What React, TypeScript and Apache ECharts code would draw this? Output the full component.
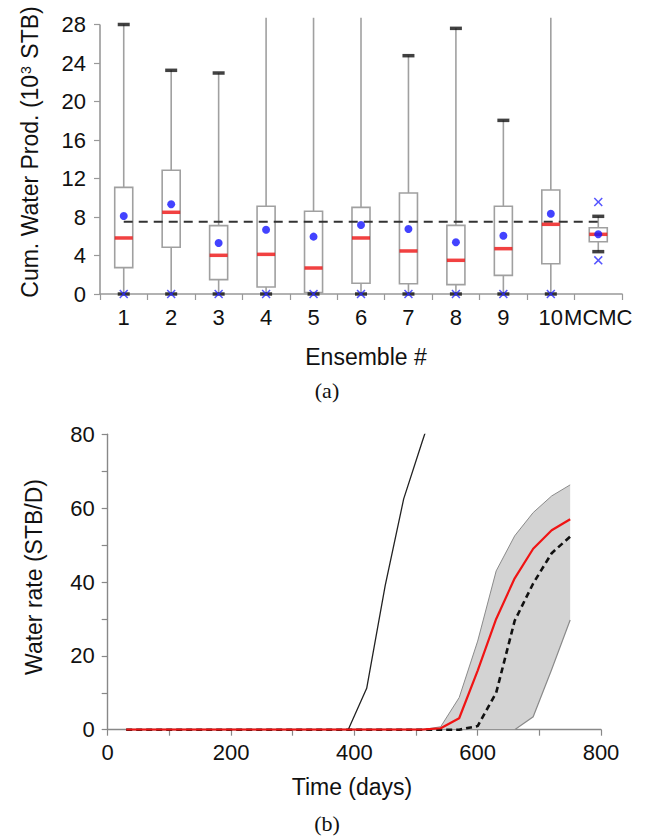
import React, { useEffect, useRef } from 'react';
import * as echarts from 'echarts';

const FONT = '"Liberation Sans", Arial, Helvetica, sans-serif';
const SERIF = '"Liberation Serif", "Times New Roman", serif';

// ---------- (a) box plot data ----------
const categories = ['1', '2', '3', '4', '5', '6', '7', '8', '9', '10', 'MCMC'];
const q1 = [2.74, 4.85, 1.49, 0.73, 0.14, 1.11, 1.07, 0.97, 1.94, 3.15, 5.43];
const q3 = [11.08, 12.85, 7.1, 9.11, 8.59, 9.0, 10.49, 7.13, 9.11, 10.8, 6.89];
const medians = [5.82, 8.49, 4.02, 4.12, 2.7, 5.82, 4.47, 3.5, 4.71, 7.24, 6.2];
const means = [8.1, 9.32, 5.3, 6.68, 5.96, 7.17, 6.75, 5.37, 6.06, 8.34, 6.2];
// null = whisker runs beyond the top of the axis
const whiskerHigh: (number | null)[] = [28.0, 23.24, 22.96, null, null, null, 24.76, 27.6, 18.04, null, 8.07];
const whiskerLow = [0, 0, 0, 0, 0, 0, 0, 0, 0, 0, 4.4];
const outlierCats = ['1', '2', '3', '4', '5', '6', '7', '8', '9', '10', 'MCMC', 'MCMC'];
const outlierValues = [0, 0, 0, 0, 0, 0, 0, 0, 0, 0, 9.56, 3.5];
const truthValue = 7.5;
const yTicksTop = [0, 4, 8, 12, 16, 20, 24, 28];
const yMaxTop = 28.7;

// ---------- (b) water rate data ----------
const times = [30, 60, 90, 120, 150, 180, 210, 240, 270, 300, 330, 360, 390, 420, 450, 480, 510, 540, 570, 600, 630, 660, 690, 720, 750];
const meanRate = [0, 0, 0, 0, 0, 0, 0, 0, 0, 0, 0, 0, 0, 0, 0, 0, 0, 0.4, 3.1, 16, 30, 41, 49, 54, 57];
const refRate = [0, 0, 0, 0, 0, 0, 0, 0, 0, 0, 0, 0, 0, 0, 0, 0, 0, 0, 0, 1, 10, 29.5, 39.6, 47.8, 52.3];
const bandUpper = [0, 0, 0, 0, 0, 0, 0, 0, 0, 0, 0, 0, 0, 0, 0, 0, 0, 0.8, 8.7, 24, 43, 52.5, 58.8, 63.3, 66.3];
const bandLower = [0, 0, 0, 0, 0, 0, 0, 0, 0, 0, 0, 0, 0, 0, 0, 0, 0, 0, 0, 0, 0, 0, 3.5, 16.3, 29.7];
const initialTimes = [30, 60, 90, 120, 150, 180, 210, 240, 270, 300, 330, 360, 390, 420, 450, 480, 510, 540];
const initialRate = [0, 0, 0, 0, 0, 0, 0, 0, 0, 0, 0, 0, 0, 11.2, 39, 62.5, 78, 93];

const xSymbol = 'path://M0,1.2L1.2,0L5,3.8L8.8,0L10,1.2L6.2,5L10,8.8L8.8,10L5,6.2L1.2,10L0,8.8L3.8,5Z';

export default function App() {
  const ref = useRef<HTMLDivElement>(null);

  useEffect(() => {
    const chart = echarts.init(ref.current!, null, { renderer: 'svg' });

    const boxData = categories.map((c, i) => [
      i,
      q1[i],
      q3[i],
      whiskerLow[i],
      whiskerHigh[i] === null ? yMaxTop : (whiskerHigh[i] as number),
    ]);

    const capData: [string, number][] = [];
    categories.forEach((c, i) => {
      capData.push([c, whiskerLow[i]]);
      if (whiskerHigh[i] !== null) capData.push([c, whiskerHigh[i] as number]);
    });

    const boxRender = (params: any, api: any) => {
      const i = api.value(0);
      const x = api.coord([i, 0])[0];
      const yQ1 = api.coord([i, api.value(1)])[1];
      const yQ3 = api.coord([i, api.value(2)])[1];
      const yLo = api.coord([i, api.value(3)])[1];
      const yHi = api.coord([i, api.value(4)])[1];
      const bandW = api.size([1, 0])[0];
      const bw = bandW * 0.38;
      const stroke = { stroke: '#a0a0a0', lineWidth: 1.6 };
      const children: any[] = [
        { type: 'line', shape: { x1: x, y1: yQ1, x2: x, y2: yLo }, style: stroke },
        { type: 'line', shape: { x1: x, y1: yQ3, x2: x, y2: yHi }, style: stroke },
        {
          type: 'rect',
          shape: { x: x - bw / 2, y: yQ3, width: bw, height: yQ1 - yQ3 },
          style: { fill: '#fff', stroke: '#a0a0a0', lineWidth: 1.6 },
        },
      ];
      if (i === 0) {
        const ax = x - bandW / 2;
        children.push({
          type: 'line',
          shape: { x1: ax, y1: api.coord([0, 0])[1], x2: ax, y2: api.coord([0, yTicksTop[yTicksTop.length - 1]])[1] },
          style: { stroke: '#999', lineWidth: 1.6 },
        });
      }
      return { type: 'group', children };
    };

    const bandRender = (params: any, api: any) => {
      if (params.dataIndex !== 0) return null;
      const up = times.map((t, i) => api.coord([t, bandUpper[i]]));
      const lo = times.map((t, i) => api.coord([t, bandLower[i]]));
      const poly = up.concat(lo.slice().reverse());
      return {
        type: 'group',
        children: [
          { type: 'polygon', shape: { points: poly }, style: { fill: '#d3d3d3', stroke: 'none' } },
          { type: 'polyline', shape: { points: up }, style: { stroke: '#8a8a8a', lineWidth: 1, fill: 'none' } },
          { type: 'polyline', shape: { points: lo }, style: { stroke: '#8a8a8a', lineWidth: 1.2, fill: 'none' } },
        ],
      };
    };

    const labelStyle = { fontFamily: FONT, fontSize: 22, color: '#111' };

    const option: any = {
      animation: false,
      backgroundColor: '#fff',
      grid: [
        { left: 100, width: 522, top: 294 - yMaxTop * 9.625, height: yMaxTop * 9.625 },
        { left: 107.7, width: 493.3, top: 434.3, height: 295.4 },
      ],
      xAxis: [
        {
          gridIndex: 0,
          type: 'category',
          data: categories,
          boundaryGap: true,
          axisLine: { lineStyle: { color: '#999', width: 1.6 } },
          axisTick: { show: true, length: 6, interval: 0, alignWithLabel: false, lineStyle: { color: '#999', width: 1.2 } },
          axisLabel: { ...labelStyle, interval: 0, margin: 12 },
          splitLine: { show: false },
        },
        {
          gridIndex: 1,
          type: 'value',
          min: 0,
          max: 800,
          interval: 100,
          axisLine: { lineStyle: { color: '#888', width: 1.4 } },
          axisTick: { show: true, length: 6, lineStyle: { color: '#888', width: 1.2 } },
          axisLabel: { ...labelStyle, margin: 12, formatter: (v: number) => (v % 200 === 0 ? String(v) : '') },
          splitLine: { show: false },
        },
      ],
      yAxis: [
        {
          gridIndex: 0,
          type: 'value',
          min: 0,
          max: yMaxTop,
          interval: 4,
          axisLine: { show: false },
          axisTick: { show: true, length: 6, customValues: yTicksTop, lineStyle: { color: '#999', width: 1.2 } },
          axisLabel: { ...labelStyle, margin: 14, customValues: yTicksTop },
          splitLine: { show: false },
        },
        {
          gridIndex: 1,
          type: 'value',
          min: 0,
          max: 80,
          interval: 10,
          axisLine: { show: true, lineStyle: { color: '#888', width: 1.4 } },
          axisTick: { show: true, length: 6, lineStyle: { color: '#888', width: 1.2 } },
          axisLabel: { ...labelStyle, margin: 13, formatter: (v: number) => (v % 20 === 0 ? String(v) : '') },
          splitLine: { show: false },
        },
      ],
      graphic: [
        {
          type: 'text',
          x: 30,
          y: 152,
          rotation: Math.PI / 2,
          style: {
            text: 'Cum. Water Prod. (10{sup|3} STB)',
            fontFamily: FONT,
            fontSize: 23,
            fill: '#111',
            align: 'center',
            verticalAlign: 'middle',
            rich: { sup: { fontFamily: FONT, fontSize: 14, fill: '#111', verticalAlign: 'top', padding: [0, 1, 9, 1] } },
          },
        },
        {
          type: 'text',
          x: 366,
          y: 357,
          style: { text: 'Ensemble #', fontFamily: FONT, fontSize: 23, fill: '#111', align: 'center', verticalAlign: 'middle' },
        },
        {
          type: 'text',
          x: 327,
          y: 390,
          style: { text: '(a)', fontFamily: SERIF, fontSize: 22, fill: '#111', align: 'center', verticalAlign: 'middle' },
        },
        {
          type: 'text',
          x: 34,
          y: 577,
          rotation: Math.PI / 2,
          style: { text: 'Water rate (STB/D)', fontFamily: FONT, fontSize: 23, fill: '#111', align: 'center', verticalAlign: 'middle' },
        },
        {
          type: 'text',
          x: 352,
          y: 787,
          style: { text: 'Time (days)', fontFamily: FONT, fontSize: 23, fill: '#111', align: 'center', verticalAlign: 'middle' },
        },
        {
          type: 'text',
          x: 327,
          y: 823,
          style: { text: '(b)', fontFamily: SERIF, fontSize: 22, fill: '#111', align: 'center', verticalAlign: 'middle' },
        },
      ],
      series: [
        // ---- (a) ----
        {
          type: 'custom',
          xAxisIndex: 0,
          yAxisIndex: 0,
          renderItem: boxRender,
          data: boxData,
          encode: { x: 0, y: [1, 2, 3, 4] },
          clip: false,
          z: 1,
        },
        {
          type: 'line',
          xAxisIndex: 0,
          yAxisIndex: 0,
          data: [
            [categories[0], truthValue],
            [categories[categories.length - 1], truthValue],
          ],
          symbol: 'none',
          lineStyle: { color: '#333', width: 2, type: [9, 6] },
          z: 2,
        },
        {
          type: 'scatter',
          xAxisIndex: 0,
          yAxisIndex: 0,
          data: categories.map((c, i) => [c, medians[i]]),
          symbol: 'rect',
          symbolSize: [18, 3.5],
          itemStyle: { color: '#ee1111' },
          clip: false,
          z: 3,
        },
        {
          type: 'scatter',
          xAxisIndex: 0,
          yAxisIndex: 0,
          data: capData,
          symbol: 'rect',
          symbolSize: [12, 3.5],
          itemStyle: { color: '#111' },
          clip: false,
          z: 3,
        },
        {
          type: 'scatter',
          xAxisIndex: 0,
          yAxisIndex: 0,
          data: categories.map((c, i) => [c, means[i]]),
          symbol: 'circle',
          symbolSize: 8,
          itemStyle: { color: '#1414ff' },
          clip: false,
          z: 4,
        },
        {
          type: 'scatter',
          xAxisIndex: 0,
          yAxisIndex: 0,
          data: outlierCats.map((c, i) => [c, outlierValues[i]]),
          symbol: xSymbol,
          symbolSize: 9,
          itemStyle: { color: '#2a2aff' },
          clip: false,
          z: 5,
        },
        // ---- (b) ----
        {
          type: 'custom',
          xAxisIndex: 1,
          yAxisIndex: 1,
          renderItem: bandRender,
          data: times.map((t, i) => [t, bandUpper[i], bandLower[i]]),
          encode: { x: 0, y: [1, 2] },
          clip: true,
          z: 1,
        },
        {
          type: 'line',
          xAxisIndex: 1,
          yAxisIndex: 1,
          data: initialTimes.map((t, i) => [t, initialRate[i]]),
          symbol: 'none',
          lineStyle: { color: '#222', width: 1.3 },
          z: 2,
        },
        {
          type: 'line',
          xAxisIndex: 1,
          yAxisIndex: 1,
          data: times.map((t, i) => [t, refRate[i]]),
          symbol: 'none',
          lineStyle: { color: '#111', width: 2.6, type: [6, 4] },
          z: 3,
        },
        {
          type: 'line',
          xAxisIndex: 1,
          yAxisIndex: 1,
          data: times.map((t, i) => [t, meanRate[i]]),
          symbol: 'none',
          lineStyle: { color: '#f01414', width: 2.2 },
          z: 4,
        },
      ],
    };

    chart.setOption(option);
    return () => chart.dispose();
  }, []);

  return (
    <div
      ref={ref}
      style={{ position: 'absolute', left: 0, top: 0, width: 654, height: 839, background: '#fff' }}
    />
  );
}
